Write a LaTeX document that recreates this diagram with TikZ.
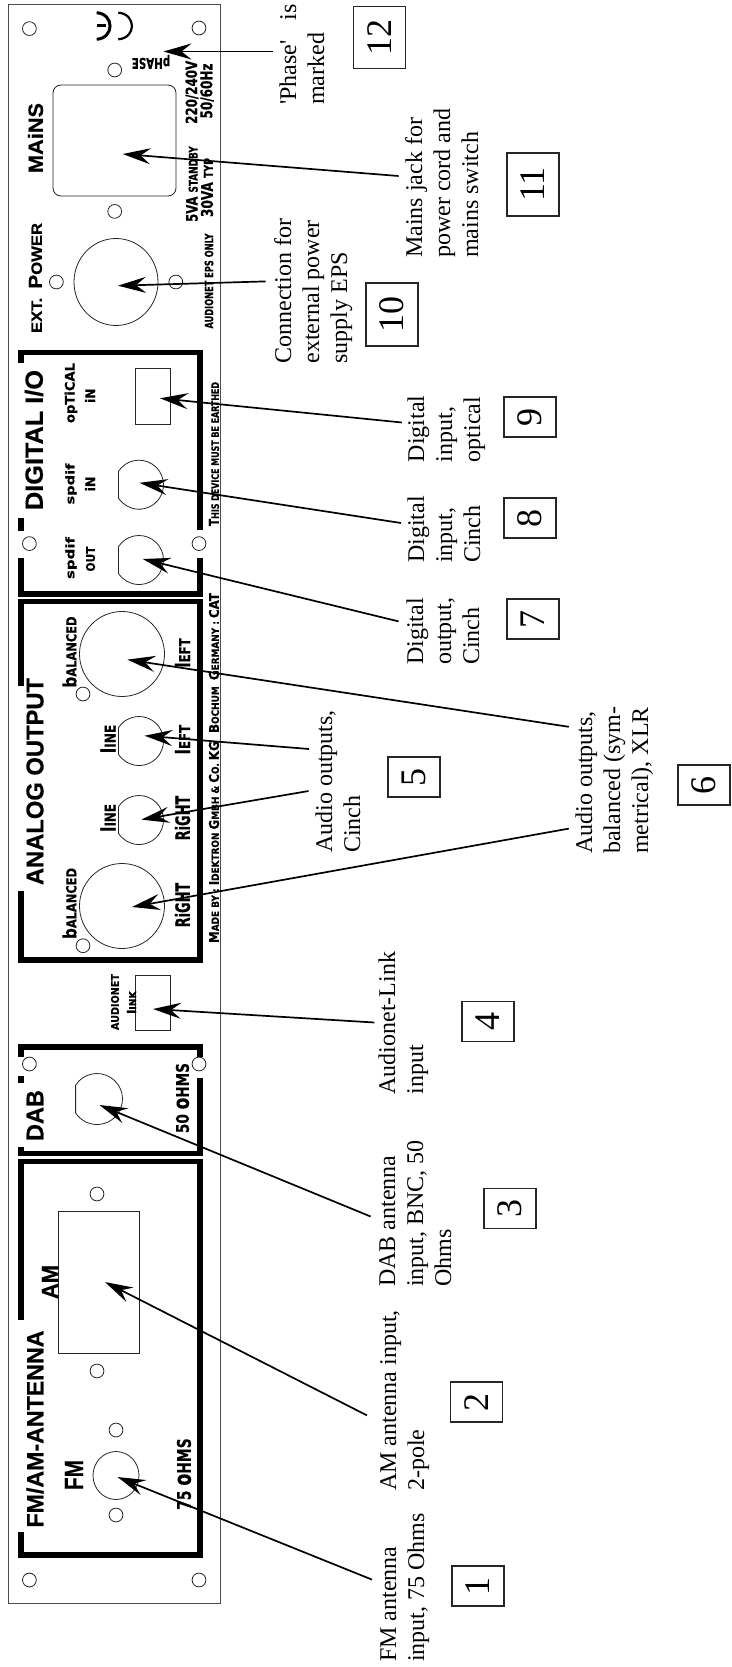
\documentclass[tikz,border=0pt]{standalone}
\usepackage{fontspec}
\setmainfont[Ligatures=TeXOff]{Liberation Serif}
\newfontfamily\pf[BoldFeatures={FakeBold=0.6}]{Liberation Sans}
\newfontfamily\pg[BoldFeatures={FakeBold=0.5}]{DejaVu Sans}
\usetikzlibrary{arrows.meta}
\newcommand\sz[1]{\fontsize{#1}{#1}\selectfont}
\tikzset{
  arr/.style={line width=1.7pt,-{Stealth[length=28pt,width=16pt,inset=10pt]}},
  ptxt/.style={font=\pf\bfseries,rotate=90,inner sep=0pt},
  qtxt/.style={font=\pg\bfseries,rotate=90,inner sep=0pt},
  lab/.style={font=\fontsize{24}{28}\selectfont,rotate=90,anchor=north west,align=left,inner sep=0pt},
  numbox/.style={draw=black!85,line width=1.3pt,rotate=90,inner sep=0pt,font=\fontsize{36}{36}\selectfont,minimum height=52pt},
  brk/.style={line width=5.5pt,line cap=butt,black},
  thinl/.style={line width=0.8pt,black!85},
}
% name, cx, cy, length, height, text
\newcommand\ptext[6]{\node[ptxt] (#1) at (#2,#3) {\resizebox{#4pt}{#5pt}{\sz{12}#6}};}
\newcommand\qtext[6]{\node[qtxt] (#1) at (#2,#3) {\resizebox{#4pt}{#5pt}{\sz{12}#6}};}
\newcommand\lbl[4]{\node[lab] (#1) at (#2-17,#3) {\rule{0pt}{17pt}#4};}
\newcommand\num[5]{\node[numbox,minimum width=#4pt] (#1) at (#2,#3) {#5};}
\newcommand\arro[5]{\coordinate (#1t) at (#2,#3);\coordinate (#1h) at (#4,#5);\draw[arr] (#1t) -- (#1h);}
\newcommand\screw[2]{\draw[thinl] (#1,#2) circle[radius=6.9pt];}
\newcommand\cinch[3]{\draw[thinl] ([shift={(147:#3pt)}]#1,#2) arc[start angle=147,delta angle=-294,radius=#3pt] -- cycle;}
\begin{document}
\begin{tikzpicture}[x=1pt,y=-1pt]
\useasboundingbox (0,0) rectangle (731,1667);
% panel
\draw[line width=0.9pt,black!70] (8.4,4.8) rectangle (220,1603.4);
\foreach \p/\q in {29.4/28.6,199/28,29.4/543.6,199/543.6,29.4/1064,199/1064,29.4/1580,199/1580,114.7/70,114.7/211.4,56.4/282,175.8/282,83/694,83/945.7,116/1430,116/1515,97/1194,97/1371}{\screw{\p}{\q}}
% mains jack etc
\draw[thinl,rounded corners=8pt] (53,85) rectangle (176,196);
\draw[thinl] (116,282) ellipse[x radius=42pt,y radius=43.5pt];
\draw[thinl] (122,654) circle[radius=42.5pt];
\draw[thinl] (122,906) circle[radius=42.5pt];
\draw[thinl] (116,1475.5) ellipse[x radius=23pt,y radius=24pt];
\draw[thinl] (135.7,368.6) rectangle (170,424.3);
\draw[thinl] (135.7,975.4) rectangle (170,1030.4);
\draw[thinl] (58.3,1211.4) rectangle (139,1353);
\cinch{139}{484.7}{24.5}
\cinch{139}{560}{24.5}
\cinch{139}{741}{24.5}
\cinch{139}{820}{24.5}
\cinch{97}{1099}{25.5}
% brackets
\draw[brk] (21,362.7) -- (21,352.7) -- (200,352.7) -- (200,530);
\draw[brk] (21,517.7) -- (21,531);
\draw[brk] (21,558) -- (21,594) -- (200,594) -- (200,558);
\draw[brk] (21,686) -- (21,601.5) -- (200,601.5) -- (200,960) -- (21,960) -- (21,891);
\draw[brk] (21,1057) -- (21,1047) -- (200,1047) -- (200,1057);
\draw[brk] (21,1076) -- (21,1083);
\draw[brk] (21,1147) -- (21,1153.5) -- (200,1153.5) -- (200,1078);
\draw[brk] (21,1319.5) -- (21,1161.5) -- (200,1161.5) -- (200,1555) -- (21,1555) -- (21,1532);
% earth symbol
\draw[line width=3pt] (96.7,12.7) .. controls (114.5,14) and (114.5,38) .. (96.7,39.3);
\draw[line width=3pt] (97,26) -- (106,26);
\draw[line width=2.2pt] (118.3,12.7) .. controls (136.5,14) and (136.5,38) .. (118.3,39.3);
% panel texts
\ptext{tmains}{35.5}{138}{70}{15}{MA{i}NS}
\ptext{text}{35.5}{278}{110}{13}{\sz{12}EXT.~ \sz{15}P\sz{12}OWER}
\ptext{tdig}{34}{440}{140}{18}{DIGITAL I/O}
\ptext{tana}{35}{781.5}{207}{17}{ANALOG OUTPUT}
\ptext{tdab}{35}{1115.5}{51}{16.5}{DAB}
\ptext{tfmam}{35}{1429}{197}{17}{FM/AM-ANTENNA}
\ptext{tfm}{74}{1475}{30}{18}{FM}
\ptext{tam}{50}{1282}{34}{16}{AM}
\qtext{ta}{192}{92.3}{63}{11.5}{220/240V}
\qtext{tb}{207}{91}{55}{12}{50/60Hz}
\qtext{tc}{192}{184}{75.5}{11.5}{\sz{13}5VA \sz{10}STANDBY}
\qtext{td}{207}{187.5}{59}{12}{\sz{13}30VA \sz{10}TYP}
\qtext{te}{209}{281}{95}{8.5}{\sz{9}AUDIONET EPS ONLY}
\qtext{tf}{214}{454}{144}{10}{\sz{12}T\sz{9}HIS DEVICE MUST BE EARTHED}
\qtext{tg}{214}{768}{350}{10}{\sz{12}M\sz{9}ADE BY : \sz{12}I\sz{9}DEKTRON \sz{12}G\sz{9}MBH \& \sz{12}C\sz{9}O. \sz{12}KG \ \sz{12}B\sz{9}OCHUM \ \sz{12}G\sz{9}ERMANY : \sz{12}CAT}
\node[qtxt,rotate=90,inner sep=0pt] (tph) at (151,62) {\resizebox{38.5pt}{11pt}{\sz{12}pHASE}};
\qtext{opt}{71}{393}{60}{10}{\sz{12}opTiCAL}
\qtext{optin}{90}{395.7}{14.5}{10}{iN}
\qtext{spa}{71}{484}{41}{9}{spdif}
\qtext{spain}{90}{484}{15}{10}{iN}
\qtext{spb}{71}{558}{42}{9}{spdif}
\qtext{spbout}{90.5}{559}{25}{9}{OUT}
\qtext{balL}{69.5}{652}{71}{14}{\sz{16}b\sz{12}ALANCED}
\qtext{balR}{69.5}{903.5}{71}{14}{\sz{16}b\sz{12}ALANCED}
\qtext{linL}{108}{739}{28.5}{15}{\sz{16}l\sz{12}INE}
\qtext{linR}{108}{818}{28}{15}{\sz{16}l\sz{12}INE}
\qtext{lefA}{182.5}{653}{29.5}{15}{\sz{16}l\sz{12}EFT}
\qtext{lefB}{182.5}{739.6}{29.5}{15}{\sz{16}l\sz{12}EFT}
\qtext{rigA}{182.5}{818}{44.5}{15}{RiGHT}
\qtext{rigB}{182.5}{905}{44.5}{15}{RiGHT}
\qtext{anet}{115}{1002}{56}{8}{AUDIONET}
\qtext{alink}{131.5}{1002.5}{22.5}{9}{\sz{15}l\sz{12}INK}
\qtext{o75}{184}{1474}{71.5}{14}{75 \sz{15}o\sz{12}HMS}
\qtext{o50}{182.5}{1098}{70}{13}{50 \sz{15}o\sz{12}HMS}
% labels
\lbl{l12}{296}{105}{'Phase'\hspace*{20pt}is\\marked}
\lbl{l11}{422}{258}{Mains jack for\\power cord and\\mains switch}
\lbl{l10}{291}{363.6}{Connection for\\external power\\supply EPS}
\lbl{l9}{424}{462.5}{Digital\\input,\\optical}
\lbl{l8}{424}{563}{Digital\\input,\\Cinch}
\lbl{l7}{423}{665}{Digital\\output,\\Cinch}
\lbl{l6}{592}{854}{Audio outputs,\\balanced (sym-\\metrical), XLR}
\lbl{l5}{332}{853}{Audio outputs,\\Cinch}
\lbl{l4}{395}{1094.6}{Audionet-Link\\input}
\lbl{l3}{395}{1287}{DAB antenna\\input, BNC, 50\\Ohms}
\lbl{l2}{396}{1491}{AM antenna input,\\2-pole}
\lbl{l1}{396}{1662}{FM antenna\\input, 75 Ohms}
% number boxes
\num{n12}{379.5}{37.5}{62}{12}
\num{n11}{533}{184.5}{63}{11}
\num{n10}{392}{314.5}{63}{10}
\num{n9}{530}{417}{40}{9}
\num{n8}{530}{518}{40}{8}
\num{n7}{533}{619}{40}{7}
\num{n5}{414}{777}{40}{5}
\num{n6}{704}{785}{40}{6}
\num{n4}{488}{1021.5}{40}{4}
\num{n3}{510}{1208.5}{40}{3}
\num{n2}{476.5}{1402}{40}{2}
\num{n1}{478}{1586}{40}{1}
% arrows
\arro{a12}{272.7}{51.5}{163.5}{51.5}
\arro{a11}{398.6}{176}{122.6}{154}
\arro{a10}{265.7}{281.4}{118}{285.7}
\arro{a9}{401.9}{422.5}{160}{398.3}
\arro{a8}{401}{523}{139.5}{482.8}
\arro{a7}{398.6}{621.4}{142.7}{559}
\arro{a6a}{568.8}{726.8}{127.3}{659.6}
\arro{a6b}{568.8}{828.6}{132}{907}
\arro{a5a}{309}{749}{144.5}{735.7}
\arro{a5b}{308.6}{791}{141.3}{819.6}
\arro{a4}{374.4}{1022.5}{153}{1009}
\arro{a3}{370.6}{1216.5}{99.5}{1105}
\arro{a2}{367}{1415.4}{105}{1282}
\arro{a1}{372}{1579.6}{117.5}{1477}
\end{tikzpicture}
\end{document}
